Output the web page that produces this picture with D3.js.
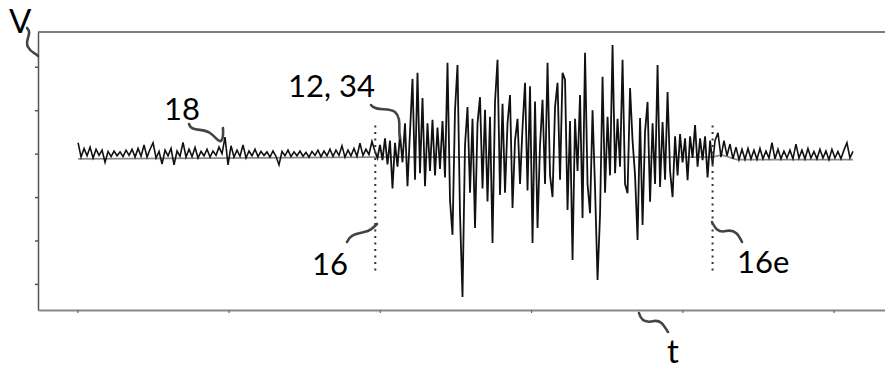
<!DOCTYPE html>
<html>
<head>
<meta charset="utf-8">
<script src="https://cdn.jsdelivr.net/npm/d3@7"></script>
<style>
  html, body { margin: 0; padding: 0; background: #fff; }
  svg { display: block; }
  .label { font-family: Lato, "Open Sans", sans-serif; fill: #000; }
  .squiggle { fill: none; stroke: #444; stroke-width: 2.6; stroke-linecap: round; }
</style>
</head>
<body>
<div id="chart"></div>
<script>
// axis ticks
const yTicks = [0, 1, 2, 3, 4, 5];
const tTicks = [0, 1, 2, 3, 4, 5];

// quiet signal before the burst (uniform samples between preT)
const preT = [0.005, 1.948];
const preV = [3.25, 2.92, 3.12, 2.95, 3.15, 2.90, 3.10, 2.96, 3.08, 2.80,
  3.05, 2.93, 3.06, 2.95, 3.04, 2.93, 3.08, 2.96, 3.10, 2.92,
  3.12, 2.94, 3.20, 2.92, 3.10, 3.25, 2.90, 3.05, 2.76, 3.08,
  2.95, 3.12, 2.74, 3.06, 2.94, 3.26, 2.92, 3.10, 2.93, 3.14,
  2.90, 3.05, 2.95, 3.10, 2.92, 3.06, 2.96, 3.15, 3.00, 3.38,
  2.74, 3.18, 2.92, 3.08, 2.94, 3.20, 2.90, 3.06, 2.95, 3.10,
  2.93, 3.05, 2.96, 3.04, 2.92, 3.06, 2.94, 2.74, 3.05, 2.95,
  3.08, 2.93, 3.04, 2.95, 3.06, 2.94, 3.03, 2.92, 3.05, 2.96,
  3.08, 2.93, 3.06, 2.95, 3.10, 2.94, 3.08, 2.96, 3.18, 2.92,
  3.08, 2.95, 3.12, 2.94, 3.24, 2.96, 3.10, 2.98, 3.28];

// burst between markers 16 and 16e
const burstT = [1.968, 4.200];
const burstV = [3.05, 2.90, 3.20, 2.85, 3.35, 2.75, 3.30, 2.20, 3.25, 2.70,
  3.45, 2.80, 3.70, 2.25, 3.50, 4.72, 2.40, 4.86, 2.55, 4.28,
  2.25, 3.70, 2.60, 3.78, 2.50, 3.60, 2.65, 3.75, 2.45, 5.09,
  1.93, 1.13, 4.00, 5.04, 1.60, -0.30, 3.20, 4.07, 2.10, 3.80,
  1.29, 3.70, 4.30, 2.20, 4.01, 1.90, 3.85, 0.94, 4.19, 5.16,
  2.05, 4.15, 2.10, 3.70, 4.35, 1.75, 3.30, 3.80, 2.30, 3.60,
  4.63, 2.15, 4.55, 0.94, 4.20, 1.29, 3.20, 4.24, 2.30, 5.09,
  2.50, 2.00, 4.07, 4.63, 2.40, 4.86, 4.70, 1.70, 3.75, 0.55,
  3.80, 2.60, 4.35, 1.52, 5.32, 2.30, 1.63, 4.00, 2.20, 0.09,
  1.60, 4.77, 2.10, 3.85, 2.50, 5.50, 2.55, 3.80, 2.70, 5.16,
  2.30, 2.09, 4.51, 3.30, 2.50, 1.01, 3.82, 1.36, 3.50, 4.19,
  1.89, 3.70, 2.30, 5.04, 2.23, 3.73, 2.40, 4.42, 2.60, 2.00,
  3.40, 2.50, 3.45, 2.80, 3.35, 2.39, 3.40, 2.90, 3.66, 2.70,
  3.35, 2.85, 3.40, 2.45, 3.30, 2.75];

// quiet signal after the burst
const postT = [4.216, 5.128];
const postV = [3.30, 3.48, 2.92, 3.30, 2.95, 3.22, 2.88, 3.15, 2.86, 3.10,
  2.87, 3.12, 2.88, 3.08, 2.87, 3.12, 2.88, 3.06, 2.90, 3.25,
  2.88, 3.10, 2.88, 3.06, 2.90, 3.08, 2.88, 3.22, 2.90, 3.08,
  2.88, 3.12, 2.90, 3.05, 2.88, 3.10, 2.90, 3.06, 2.86, 3.10,
  2.90, 3.05, 2.88, 3.08, 3.25, 2.90, 3.05];

// smoothed reference line (gray)
const meanT = [0.005, 1.97, 4.20, 4.26, 4.36, 4.55, 5.128];
const meanV = [2.88, 2.92, 2.92, 2.97, 2.86, 2.86, 2.86];

// onset / end markers
const markerT = [1.97, 4.20];
const markerLabels = ['16', '16e'];

const W = 885, H = 369;
const svg = d3.select('#chart').append('svg').attr('width', W).attr('height', H);

const x = d3.scaleLinear().domain([-0.26, 5.34]).range([38, 885]);
const y = d3.scaleLinear().domain([-0.6, 5.8]).range([310, 32]);

function samples(tr, vals) {
  const step = (tr[1] - tr[0]) / (vals.length - 1);
  return vals.map((v, i) => [tr[0] + i * step, v]);
}
const quiet1 = samples(preT, preV);
const burst = samples(burstT, burstV);
const quiet2 = samples(postT, postV);
const mean = meanT.map((t, i) => [t, meanV[i]]);

// top border
svg.append('line')
  .attr('x1', x.range()[0]).attr('x2', x.range()[1])
  .attr('y1', y.range()[1]).attr('y2', y.range()[1])
  .attr('stroke', '#555').attr('stroke-width', 1.5);

// axes
const yAxis = svg.append('g')
  .attr('transform', `translate(${x.range()[0]},0)`)
  .call(d3.axisLeft(y).tickValues(yTicks).tickSize(3).tickSizeOuter(0).tickFormat(''));
yAxis.select('.domain').attr('stroke', '#555').attr('stroke-width', 1.5);
yAxis.selectAll('.tick line').attr('stroke', '#555').attr('stroke-width', 1.5);

const xAxis = svg.append('g')
  .attr('transform', `translate(0,${y.range()[0]})`)
  .call(d3.axisBottom(x).tickValues(tTicks).tickSize(3).tickSizeOuter(0).tickFormat(''));
xAxis.select('.domain').attr('stroke', '#888').attr('stroke-width', 2);
xAxis.selectAll('.tick line').attr('stroke', '#666').attr('stroke-width', 1.2);

const line = d3.line().x(d => x(d[0])).y(d => y(d[1]));

svg.append('path').datum(mean)
  .attr('d', line).attr('fill', 'none')
  .attr('stroke', '#8a8a8a').attr('stroke-width', 1.8);

// signal: quiet parts, then the burst joined to them
svg.append('path').datum(quiet1.concat(burst.slice(0, 1)))
  .attr('d', line).attr('fill', 'none')
  .attr('stroke', '#111').attr('stroke-width', 1.6);
svg.append('path').datum(burst.slice(-1).concat(quiet2))
  .attr('d', line).attr('fill', 'none')
  .attr('stroke', '#111').attr('stroke-width', 1.6);
svg.append('path').datum(burst)
  .attr('d', line).attr('fill', 'none')
  .attr('stroke', '#111').attr('stroke-width', 1.8);

// dotted marker lines
svg.selectAll('line.marker').data(markerT).enter().append('line')
  .attr('class', 'marker')
  .attr('x1', d => x(d)).attr('x2', d => x(d))
  .attr('y1', y(3.65)).attr('y2', y(0.25))
  .attr('stroke', '#333').attr('stroke-width', 2)
  .attr('stroke-dasharray', '2,4.5');

// labels and leader squiggles
const labels = [
  { text: 'V', x: 9, y: 33, size: 33 },
  { text: '18', x: 164, y: 120, size: 31 },
  { text: '12, 34', x: 288, y: 97, size: 31 },
  { text: markerLabels[0], x: 312, y: 275, size: 31 },
  { text: markerLabels[1], x: 737, y: 273, size: 31 },
  { text: 't', x: 667, y: 363, size: 33 }
];
svg.selectAll('text.label').data(labels).enter().append('text')
  .attr('class', 'label')
  .attr('x', d => d.x).attr('y', d => d.y)
  .style('font-size', d => d.size + 'px')
  .text(d => d.text);

const squiggles = [
  'M27,28 C33,34 24,40 28,47 C31,53 36,53 38,56',
  'M189,124 C191,132 203,128 210,133 C216,137 218,142 221,141 C224,138 223,132 223,128',
  'M371,105 C376,112 388,107 395,112 C402,118 398,130 400,138',
  'M347,242 C350,234 357,234 364,232 C370,231 373,228 377,224',
  'M712,222 C715,228 718,233 726,231 C736,229 739,236 742,242',
  'M639,313 C641,321 646,323 654,321 C662,320 664,326 668,332'
];
svg.selectAll('path.squiggle').data(squiggles).enter().append('path')
  .attr('class', 'squiggle')
  .attr('d', d => d);
</script>
</body>
</html>
